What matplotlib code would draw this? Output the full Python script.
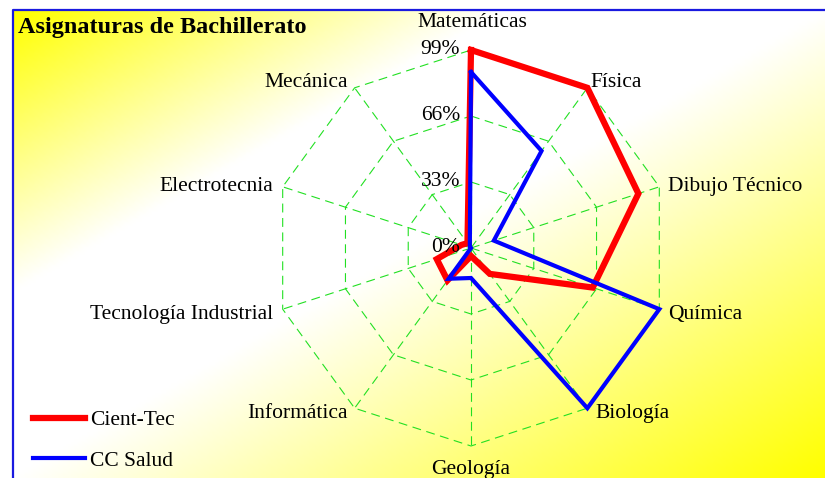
import numpy as np
import matplotlib
matplotlib.use("Agg")
import matplotlib.pyplot as plt
from matplotlib.colors import LinearSegmentedColormap

# data (percent)
asignaturas = ["Matemáticas", "Física", "Dibujo Técnico", "Química", "Biología",
               "Geología", "Informática", "Tecnología Industrial", "Electrotecnia", "Mecánica"]
cient_tec = [99, 99, 88, 64, 16, 4, 20, 18, 5, 3]
cc_salud = [88, 60, 12, 99, 99, 15, 19, 0, 0, 1]
r_ticks = [0, 33, 66, 99]
r_tick_labels = ["0%", "33%", "66%", "99%"]

plt.rcParams['font.family'] = ['Liberation Serif', 'DejaVu Serif']

W, H = 825, 478
fig = plt.figure(figsize=(W / 100, H / 100), dpi=100)

# background: diagonal yellow-white-yellow gradient with blue frame
bg = fig.add_axes([0, 0, 1, 1], zorder=-5)
bg.set_xlim(0, W)
bg.set_ylim(H, 0)
bg.axis("off")
x0, y0 = 13, 10
xx, yy = np.meshgrid(np.linspace(0, 1, 300), np.linspace(0, 1, 200))
t = (xx + yy) / 2
cmap = LinearSegmentedColormap.from_list(
    "yw", [(0, "#ffff00"), (0.3, "#ffffff"), (0.5, "#ffffff"), (1, "#ffff00")])
bg.imshow(t, cmap=cmap, extent=[x0, W, H, y0], aspect="auto", vmin=0, vmax=1,
          interpolation="bilinear")
bg.plot([x0, x0, W], [H, y0, y0], color="#1a1ae0", lw=1.6, solid_capstyle="butt")

# radar axes
cx, cy, R = 471, 248, 198
ax = fig.add_axes([(cx - R) / W, (H - cy - R) / H, 2 * R / W, 2 * R / H],
                  projection="polar")
ax.set_theta_zero_location("N")
ax.set_theta_direction(-1)
ax.set_ylim(0, 99)
ax.patch.set_alpha(0)
ax.spines["polar"].set_visible(False)
ax.grid(False)
ax.set_xticks([])
ax.set_yticks([])

n = len(asignaturas)
ang = np.linspace(0, 2 * np.pi, n, endpoint=False)
ang_c = np.append(ang, ang[0])

grid_kw = dict(color="#22e022", lw=0.8, linestyle=(0, (8, 5)), clip_on=False, zorder=1)
for r in r_ticks[1:]:
    ax.plot(ang_c, [r] * (n + 1), **grid_kw)
for a in ang:
    ax.plot([a, a], [0, 99], **grid_kw)

ax.plot(ang_c, cient_tec + cient_tec[:1], color="#ff0000", lw=4.5,
        solid_joinstyle="miter", clip_on=False, zorder=3, label="Cient-Tec")
ax.plot(ang_c, cc_salud + cc_salud[:1], color="#0000ff", lw=3,
        solid_joinstyle="miter", clip_on=False, zorder=4, label="CC Salud")

# category labels
offsets = [((1, 20), "center"), ((2, 4), "left"), ((6, 0), "left"), ((6, -4), "left"),
           ((6, -4), "left"), ((0, -17), "center"), ((-5, -4), "right"),
           ((-7, -4), "right"), ((-7, 0), "right"), ((-5, 4), "right")]
for a, lab, (off, ha) in zip(ang, asignaturas, offsets):
    ax.annotate(lab, xy=(a, 99), xytext=off, textcoords="offset points",
                ha=ha, va="center", fontsize=15.5, annotation_clip=False)

# radial tick labels
for r, lab in zip(r_ticks, r_tick_labels):
    ax.annotate(lab, xy=(0, r), xytext=(-8, 0), textcoords="offset points",
                ha="right", va="center", fontsize=15.5, annotation_clip=False)

fig.text(18 / W, 1 - 28 / H, "Asignaturas de Bachillerato", fontsize=17.5,
         fontweight="bold", ha="left", va="center")

fig.legend(loc="upper left", bbox_to_anchor=(33 / W, 1 - 410 / H), frameon=False,
           fontsize=15.5, handlelength=2.4, handletextpad=0.25, labelspacing=0.95,
           borderpad=0, borderaxespad=0)

fig.savefig("out.png", dpi=100)
